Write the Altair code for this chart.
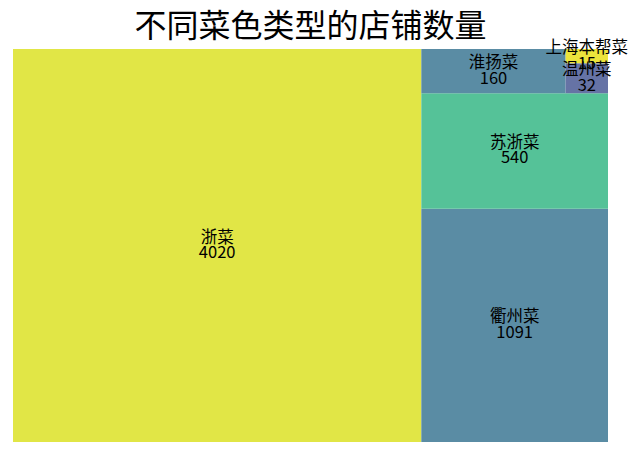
import altair as alt
import pandas as pd

names = ["浙菜", "衢州菜", "苏浙菜", "淮扬菜", "温州菜", "上海本帮菜"]
counts = [4020, 1091, 540, 160, 32, 15]
colors = ["#e1e646", "#5a8ca4", "#55c298", "#5a8ca4", "#6673a5", "#ece43c"]


# squarify layout (same algorithm as the squarify package), in a 100 x 100 box
def normalize(sizes, dx, dy):
    tot = sum(sizes)
    return [s * dx * dy / tot for s in sizes]


def layoutrow(sizes, x, y, dx, dy):
    w = sum(sizes) / dy
    out = []
    for s in sizes:
        out.append((x, y, w, s / w))
        y += s / w
    return out


def layoutcol(sizes, x, y, dx, dy):
    h = sum(sizes) / dx
    out = []
    for s in sizes:
        out.append((x, y, s / h, h))
        x += s / h
    return out


def layout(sizes, x, y, dx, dy):
    return layoutrow(sizes, x, y, dx, dy) if dx >= dy else layoutcol(sizes, x, y, dx, dy)


def leftover(sizes, x, y, dx, dy):
    if dx >= dy:
        w = sum(sizes) / dy
        return x + w, y, dx - w, dy
    h = sum(sizes) / dx
    return x, y + h, dx, dy - h


def worst(sizes, x, y, dx, dy):
    return max(max(r[2] / r[3], r[3] / r[2]) for r in layout(sizes, x, y, dx, dy))


def squarify(sizes, x, y, dx, dy):
    if not sizes:
        return []
    if len(sizes) == 1:
        return layout(sizes, x, y, dx, dy)
    i = 1
    while i < len(sizes) and worst(sizes[:i], x, y, dx, dy) >= worst(sizes[: i + 1], x, y, dx, dy):
        i += 1
    cur, rem = sizes[:i], sizes[i:]
    lx, ly, ldx, ldy = leftover(cur, x, y, dx, dy)
    return layout(cur, x, y, dx, dy) + squarify(rem, lx, ly, ldx, ldy)


rects = squarify(normalize([float(c) for c in counts], 100, 100), 0, 0, 100, 100)

df = pd.DataFrame({
    "name": names,
    "count": counts,
    "color": colors,
    "x0": [r[0] for r in rects],
    "y0": [r[1] for r in rects],
    "x1": [r[0] + r[2] for r in rects],
    "y1": [r[1] + r[3] for r in rects],
})
df["cx"] = (df["x0"] + df["x1"]) / 2
df["cy"] = (df["y0"] + df["y1"]) / 2

xs = alt.Scale(domain=[0, 100], nice=False, zero=False)
ys = alt.Scale(domain=[0, 100], nice=False, zero=False)

base = alt.Chart(df)

boxes = base.mark_rect(strokeWidth=0).encode(
    x=alt.X("x0:Q", scale=xs, axis=None),
    x2="x1:Q",
    y=alt.Y("y0:Q", scale=ys, axis=None),
    y2="y1:Q",
    color=alt.Color("color:N", scale=None, legend=None),
)

labels = base.transform_calculate(
    label="[datum.name, toString(datum.count)]"
).mark_text(
    font="Noto Sans CJK SC", fontSize=16.5, lineHeight=15.5, color="black",
    align="center", baseline="middle", dy=-8,
).encode(
    x=alt.X("cx:Q", scale=xs, axis=None),
    y=alt.Y("cy:Q", scale=ys, axis=None),
    text="label:N",
)

chart = alt.layer(boxes, labels).properties(
    width=595,
    height=393,
    title=alt.TitleParams(
        "不同菜色类型的店铺数量", font="Noto Sans CJK SC", fontSize=32,
        fontWeight="normal", color="black", anchor="middle", offset=-4,
    ),
    autosize=alt.AutoSizeParams(type="none"),
    padding={"left": 5, "top": 41, "right": 27, "bottom": 6},
).configure_view(stroke=None)

chart.save("out.html", embed_options={"renderer": "svg", "actions": False})
